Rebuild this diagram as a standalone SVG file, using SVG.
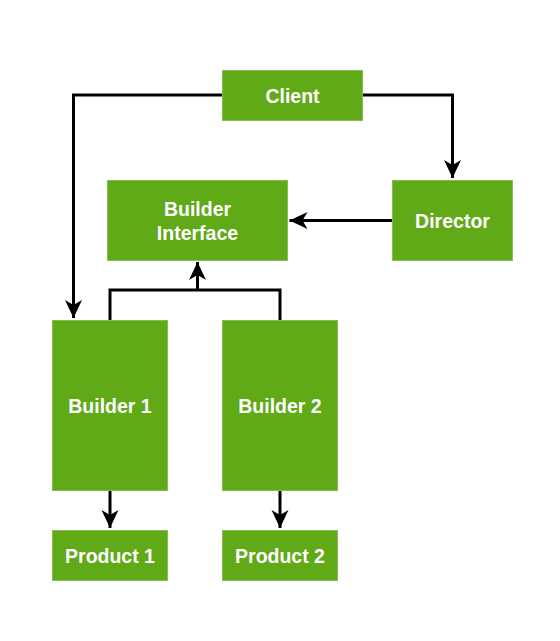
<svg xmlns="http://www.w3.org/2000/svg" width="560" height="641" viewBox="0 0 560 641">
<style>
.box{fill:#60a917;stroke:#86bd55;stroke-width:1}
.lbl{font-family:"Liberation Sans",Arial,sans-serif;font-weight:bold;font-size:19.5px;fill:#ffffff;text-anchor:middle}
.con{fill:none;stroke:#000000;stroke-width:3}
</style>
<defs>
<marker id="arr" markerUnits="userSpaceOnUse" markerWidth="20" markerHeight="20" viewBox="0 -10 20 20" refX="18" refY="0" orient="auto">
<path d="M0,-8.5 L18,0 L0,8.5 L5,0 Z" fill="#000000"/>
</marker>
</defs>
<rect width="560" height="641" fill="#ffffff"/>
<g id="connectors">
<path class="con" d="M222,95 H73.5 V318" marker-end="url(#arr)"/>
<path class="con" d="M362,95 H452.5 V178" marker-end="url(#arr)"/>
<path class="con" d="M392,220.5 H289.5" marker-end="url(#arr)"/>
<path class="con" d="M110,320 V290 H280 V320"/>
<path class="con" d="M197.5,290 V262" marker-end="url(#arr)"/>
<path class="con" d="M110,490 V528" marker-end="url(#arr)"/>
<path class="con" d="M280,490 V528" marker-end="url(#arr)"/>
</g>
<g id="client"><rect class="box" x="222.5" y="70.5" width="140" height="50"/><text class="lbl" x="292.5" y="102.5">Client</text></g>
<g id="builder-interface"><rect class="box" x="107.5" y="180.5" width="180" height="80"/><text class="lbl" x="197.5" y="216">Builder</text><text class="lbl" x="197.5" y="240">Interface</text></g>
<g id="director"><rect class="box" x="392.5" y="180.5" width="120" height="80"/><text class="lbl" x="452.5" y="227.5">Director</text></g>
<g id="builder1"><rect class="box" x="52.5" y="320.5" width="115" height="170"/><text class="lbl" x="110" y="412.5">Builder 1</text></g>
<g id="builder2"><rect class="box" x="222.5" y="320.5" width="115" height="170"/><text class="lbl" x="280" y="412.5">Builder 2</text></g>
<g id="product1"><rect class="box" x="52.5" y="530.5" width="115" height="50"/><text class="lbl" x="110" y="562.5">Product 1</text></g>
<g id="product2"><rect class="box" x="222.5" y="530.5" width="115" height="50"/><text class="lbl" x="280" y="562.5">Product 2</text></g>
</svg>
